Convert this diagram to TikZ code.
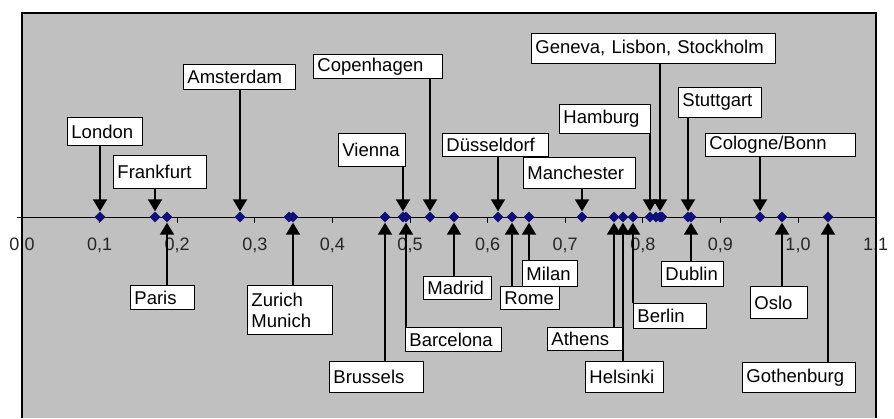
\documentclass[tikz,border=0pt]{standalone}
\usepackage{fontspec}
\setmainfont{Liberation Sans}
\usetikzlibrary{shapes.geometric,arrows.meta}
\definecolor{plotgray}{RGB}{192,192,192}
\definecolor{ptblue}{RGB}{16,16,120}
\begin{document}
\begin{tikzpicture}[x=1pt,y=-1pt,
	lbl/.style={draw,fill=white,line width=0.9pt,anchor=north west,align=left,inner xsep=4pt,inner ysep=0pt,font=\fontsize{18.5}{21}\selectfont},
	pt/.style={diamond,fill=ptblue,inner sep=0pt,minimum size=11pt},
	arr/.style={line width=2pt,-{Triangle[width=14pt,length=12pt]}}]

	\useasboundingbox (0,0) rectangle (894,418);
	\fill[plotgray] (22,13) rectangle (876,418);

	\draw[line width=1pt] (17,217) -- (876,217);
	\foreach \a/\b [count=\i from 0] in {0/0,0/1,0/2,0/3,0/4,0/5,0/6,0/7,0/8,0/9,1/0,1/1}
	{
		\draw[line width=0.8pt] (22+77.6*\i,217) -- (22+77.6*\i,223);
		\node[font=\fontsize{18}{20}\selectfont,text=black!85] (tl\i) at (22+77.6*\i,245) {\a,\b};
	}
	\draw[line width=1.5pt] (22,418) -- (22,13) -- (876,13) -- (876,418);

	\node[pt] (london) at (100,217) {};
	\node[pt] (frankfurt) at (155,217) {};
	\node[pt] (paris) at (167,217) {};
	\node[pt] (amsterdam) at (240,217) {};
	\node[pt] (zurich) at (289,217) {};
	\node[pt] (munich) at (293,217) {};
	\node[pt] (brussels) at (385,217) {};
	\node[pt] (vienna) at (403,217) {};
	\node[pt] (barcelona) at (406,217) {};
	\node[pt] (copenhagen) at (430,217) {};
	\node[pt] (madrid) at (454,217) {};
	\node[pt] (duesseldorf) at (498,217) {};
	\node[pt] (rome) at (512,217) {};
	\node[pt] (milan) at (529,217) {};
	\node[pt] (manchester) at (582,217) {};
	\node[pt] (athens) at (614,217) {};
	\node[pt] (helsinki) at (623,217) {};
	\node[pt] (berlin) at (633,217) {};
	\node[pt] (hamburg) at (650,217) {};
	\node[pt] (geneva) at (656,217) {};
	\node[pt] (lisbon) at (660,217) {};
	\node[pt] (stockholm) at (662,217) {};
	\node[pt] (stuttgart) at (688,217) {};
	\node[pt] (dublin) at (691,217) {};
	\node[pt] (cologne) at (760,217) {};
	\node[pt] (oslo) at (782,217) {};
	\node[pt] (gothenburg) at (828,217) {};

	\node[lbl,text width=67pt,minimum height=28pt] (london-l) at (67,117) {London};
	\node[lbl,text width=85pt,minimum height=33pt] (frankfurt-l) at (113,155) {Frankfurt};
	\node[lbl,text width=104pt,minimum height=25pt] (amsterdam-l) at (183,64) {Amsterdam};
	\node[lbl,text width=121pt,minimum height=24pt] (copenhagen-l) at (313,54) {Copenhagen};
	\node[lbl,text width=59pt,minimum height=33pt] (vienna-l) at (338,133) {Vienna};
	\node[lbl,text width=98pt,minimum height=23pt] (duesseldorf-l) at (442,133) {Düsseldorf};
	\node[lbl,text width=104pt,minimum height=31pt] (manchester-l) at (523,157) {Manchester};
	\node[lbl,text width=236pt,minimum height=30pt] (geneva-l) at (531,33) {Geneva, Lisbon, Stockholm};
	\node[lbl,text width=83pt,minimum height=29pt] (hamburg-l) at (559,104) {Hamburg};
	\node[lbl,text width=75pt,minimum height=30pt] (stuttgart-l) at (678,87) {Stuttgart};
	\node[lbl,text width=142pt,minimum height=23pt] (cologne-l) at (705,133) {Cologne/Bonn};

	\node[lbl,text width=56pt,minimum height=24pt] (paris-l) at (130,285) {Paris};
	\node[lbl,text width=77pt,minimum height=49pt] (zurich-l) at (247,285) {Zurich\\Munich};
	\node[lbl,text width=60pt,minimum height=23pt] (madrid-l) at (423,276) {Madrid};
	\node[lbl,text width=51pt,minimum height=23pt] (rome-l) at (500,286) {Rome};
	\node[lbl,text width=47pt,minimum height=26pt] (milan-l) at (522,260) {Milan};
	\node[lbl,text width=88pt,minimum height=24pt] (barcelona-l) at (405,327) {Barcelona};
	\node[lbl,text width=86pt,minimum height=31pt] (brussels-l) at (329,361) {Brussels};
	\node[lbl,text width=67pt,minimum height=23pt] (athens-l) at (547,327) {Athens};
	\node[lbl,text width=70pt,minimum height=31pt] (helsinki-l) at (585,361) {Helsinki};
	\node[lbl,text width=65pt,minimum height=25pt] (berlin-l) at (633,303) {Berlin};
	\node[lbl,text width=54pt,minimum height=25pt] (dublin-l) at (661,261) {Dublin};
	\node[lbl,text width=49pt,minimum height=32pt] (oslo-l) at (750,286) {Oslo};
	\node[lbl,text width=105pt,minimum height=30pt] (gothenburg-l) at (742,362) {Gothenburg};

	\draw[arr] (london-l.south -| london) -- (london);
	\draw[arr] (frankfurt-l.south -| frankfurt) -- (frankfurt);
	\draw[arr] (amsterdam-l.south -| amsterdam) -- (amsterdam);
	\draw[arr] (copenhagen-l.south -| copenhagen) -- (copenhagen);
	\draw[arr] (vienna-l.south -| vienna) -- (vienna);
	\draw[arr] (duesseldorf-l.south -| duesseldorf) -- (duesseldorf);
	\draw[arr] (manchester-l.south -| manchester) -- (manchester);
	\draw[arr] (geneva-l.south -| lisbon) -- (lisbon);
	\draw[arr] (hamburg-l.south -| hamburg) -- (hamburg);
	\draw[arr] (stuttgart-l.south -| stuttgart) -- (stuttgart);
	\draw[arr] (cologne-l.south -| cologne) -- (cologne);

	\draw[arr] (paris-l.north -| paris) -- (paris);
	\draw[arr] (zurich-l.north -| munich) -- (munich);
	\draw[arr] (madrid-l.north -| madrid) -- (madrid);
	\draw[arr] (rome-l.north -| rome) -- (rome);
	\draw[arr] (milan-l.north -| milan) -- (milan);
	\draw[arr] (barcelona-l.north west -| barcelona) -- (barcelona);
	\draw[arr] (brussels-l.north -| brussels) -- (brussels);
	\draw[arr] (athens-l.north -| athens) -- (athens);
	\draw[arr] (helsinki-l.north -| helsinki) -- (helsinki);
	\draw[arr] (berlin-l.north -| berlin) -- (berlin);
	\draw[arr] (dublin-l.north -| dublin) -- (dublin);
	\draw[arr] (oslo-l.north -| oslo) -- (oslo);
	\draw[arr] (gothenburg-l.north -| gothenburg) -- (gothenburg);

\end{tikzpicture}
\end{document}
